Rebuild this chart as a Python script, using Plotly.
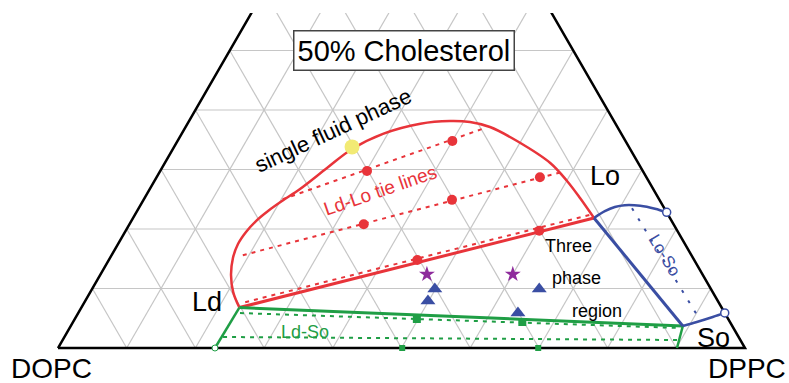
import math
import plotly.graph_objects as go

# Compositions are given as (DPPC, cholesterol) mole fractions; DOPC = 1 - DPPC - Chol.

# Ld + Lo coexistence boundary (from the Ld corner round to the Lo corner)
ldlo_dppc = [0.230, 0.208, 0.1905, 0.179, 0.1746, 0.1762, 0.1815, 0.1906, 0.2026, 0.2187,
             0.2403, 0.2607, 0.293, 0.339, 0.3798, 0.4098, 0.4431, 0.4942, 0.561, 0.6006,
             0.6338, 0.671]
ldlo_chol = [0.068, 0.094, 0.1227, 0.1513, 0.1748, 0.195, 0.2134, 0.2303, 0.2471, 0.2672,
             0.3025, 0.3345, 0.360, 0.377, 0.3815, 0.3798, 0.3714, 0.3479, 0.311, 0.2807,
             0.2521, 0.2185]

# Ld-Lo tie lines (start, end)
tie_dppc = [(0.202, 0.433), (0.191, 0.586), (0.234, 0.663)]
tie_chol = [(0.250, 0.368), (0.156, 0.296), (0.077, 0.224)]

# measured Ld-Lo compositions
lo_pts_dppc = [0.301, 0.400, 0.341, 0.449, 0.558, 0.449, 0.602]
lo_pts_chol = [0.2975, 0.348, 0.208, 0.249, 0.287, 0.148, 0.197]

# single fluid phase sample
fluid_dppc = [0.259]
fluid_chol = [0.338]

# three-phase triangle corners: Ld, Lo, So
tri_dppc = [0.230, 0.671, 0.891]
tri_chol = [0.068, 0.2185, 0.037]

# Ld + So region: side edges down to the binary axis
ldso_left_dppc = [0.230, 0.2285]
ldso_left_chol = [0.068, 0.0]
ldso_right_dppc = [0.891, 0.901]
ldso_right_chol = [0.037, 0.0]
ldso_tie_dppc = [(0.2355, 0.8886), (0.231, 0.8987)]
ldso_tie_chol = [(0.0588, 0.0336), (0.0185, 0.0134)]
ldso_pts_dppc = [0.498, 0.654]
ldso_pts_chol = [0.0487, 0.0437]
binary_pts_dppc = [0.501, 0.699]
binary_pts_chol = [0.0, 0.0]

# Lo + So region boundaries
loso_top_dppc = [0.671, 0.681, 0.692, 0.705, 0.728, 0.752, 0.772]
loso_top_chol = [0.2185, 0.230, 0.237, 0.240, 0.239, 0.234, 0.228]
loso_bot_dppc = [0.891, 0.908, 0.927, 0.941]
loso_bot_chol = [0.037, 0.0437, 0.0521, 0.059]
loso_tie_dppc = [0.718, 0.906]
loso_tie_chol = [0.235, 0.052]

# samples inside the three-phase region
tri_samples_dppc = [0.499, 0.499, 0.651, 0.640]
tri_samples_chol = [0.099, 0.079, 0.099, 0.059]
star_dppc = [0.475, 0.600]
star_chol = [0.124, 0.124]

GRID_STEP = 0.1

RED = "#e8343a"
GREEN = "#1f9e45"
BLUE = "#3a4ea3"
GRID = "#c6c6c6"
FONT = "Arial, 'Liberation Sans', sans-serif"

S3 = math.sqrt(3) / 2


def tern(dppc, chol):
    """(DPPC, Chol) fractions -> cartesian position, DOPC at the origin."""
    xs = [None if b is None else b + c / 2 for b, c in zip(dppc, chol)]
    ys = [None if c is None else c * S3 for c in chol]
    return xs, ys


def segments(pairs_b, pairs_c):
    b, c = [], []
    for (b0, b1), (c0, c1) in zip(pairs_b, pairs_c):
        b += [b0, b1, None]
        c += [c0, c1, None]
    return b, c


fig = go.Figure()


def line(b, c, color, width, dash="solid", shape="linear"):
    x, y = tern(b, c)
    fig.add_trace(go.Scatter(x=x, y=y, mode="lines", hoverinfo="skip",
                             line=dict(color=color, width=width, dash=dash, shape=shape,
                                       smoothing=1.0)))


def markers(b, c, color, symbol, size, line_color=None, line_width=0):
    x, y = tern(b, c)
    fig.add_trace(go.Scatter(x=x, y=y, mode="markers", hoverinfo="skip",
                             marker=dict(color=color, symbol=symbol, size=size,
                                         line=dict(color=line_color or color, width=line_width))))


# 10 % composition grid
n = int(round(1 / GRID_STEP))
gb, gc = [], []
for k in range(1, n):
    f = k * GRID_STEP
    gb += [0, 1 - f, None, f, f, None, 1 - f, 0, None]
    gc += [f, f, None, 0, 1 - f, None, 0, 1 - f, None]
line(gb, gc, GRID, 1.2)

# triangle frame
line([0, 1, 0, 0], [0, 0, 1, 0], "black", 2.5)

# Ld + Lo region
line(ldlo_dppc, ldlo_chol, RED, 2.5, shape="spline")
tb, tc = segments(tie_dppc, tie_chol)
line(tb, tc, RED, 2, dash="4px,5px")

# Ld + So region
lb, lc = segments(ldso_tie_dppc, ldso_tie_chol)
line(lb, lc, GREEN, 2, dash="4px,5px")
line(ldso_left_dppc, ldso_left_chol, GREEN, 2.5)
line(ldso_right_dppc, ldso_right_chol, GREEN, 2.5)

# Lo + So region
line(loso_tie_dppc, loso_tie_chol, BLUE, 2, dash="3px,9px")
line(loso_top_dppc, loso_top_chol, BLUE, 2.5, shape="spline")
line(loso_bot_dppc, loso_bot_chol, BLUE, 2.5, shape="spline")

# three-phase triangle edges
line(tri_dppc[:2], tri_chol[:2], RED, 3)
line([tri_dppc[0], tri_dppc[2]], [tri_chol[0], tri_chol[2]], GREEN, 3)
line(tri_dppc[1:], tri_chol[1:], BLUE, 3)

# end points on the binary axes
markers([loso_top_dppc[-1], loso_bot_dppc[-1]], [loso_top_chol[-1], loso_bot_chol[-1]],
        "white", "circle", 8, BLUE, 1.5)
markers([ldso_left_dppc[-1]], [ldso_left_chol[-1]], "white", "circle", 6, GREEN, 1)

# sample compositions
markers(lo_pts_dppc, lo_pts_chol, RED, "circle", 10)
markers(fluid_dppc, fluid_chol, "#f2ea74", "circle", 15)
markers(ldso_pts_dppc, ldso_pts_chol, GREEN, "square", 8)
markers(binary_pts_dppc, binary_pts_chol, GREEN, "square", 6)
markers(tri_samples_dppc, tri_samples_chol, BLUE, "triangle-up", 13)
markers(star_dppc, star_chol, "#8e2b9c", "star", 12)


def label(text, b, c, size, color="black", angle=0, **kw):
    x, y = tern([b], [c])
    fig.add_annotation(x=x[0], y=y[0], text=text, showarrow=False, textangle=angle,
                       font=dict(family=FONT, size=size, color=color), **kw)


label("50% Cholesterol", 0.254, 0.500, 29, bgcolor="white", bordercolor="#444",
      borderwidth=1.5, borderpad=3)
label("single fluid phase", 0.217, 0.366, 22, angle=-25)
label("Ld-Lo tie lines", 0.336, 0.2655, 19, color=RED, angle=-19)
label("Lo", 0.652, 0.289, 27)
label("Ld", 0.178, 0.077, 27)
label("So", 0.945, 0.017, 27)

# component names below the base corners
fig.add_annotation(x=-7 / 687, y=-20 / 687, text="DOPC", showarrow=False,
                   font=dict(family=FONT, size=28, color="black"))
fig.add_annotation(x=689 / 687, y=-20 / 687, text="DPPC", showarrow=False,
                   font=dict(family=FONT, size=28, color="black"))

label("Three", 0.658, 0.171, 18)
label("phase", 0.695, 0.118, 18)
label("region", 0.7535, 0.062, 18)
label("Ld-So", 0.346, 0.027, 18, color=GREEN)
label("Lo-So", 0.805, 0.156, 17, color=BLUE, angle=59)

fig.update_layout(
    width=789, height=383,
    margin=dict(l=0, r=0, t=13, b=0),
    paper_bgcolor="white", plot_bgcolor="white",
    showlegend=False,
    xaxis=dict(range=[-58 / 687, 731 / 687], visible=False, fixedrange=True),
    yaxis=dict(range=[-35 / 687, 335 / 687], visible=False, fixedrange=True),
)

fig.write_html("out.html")
